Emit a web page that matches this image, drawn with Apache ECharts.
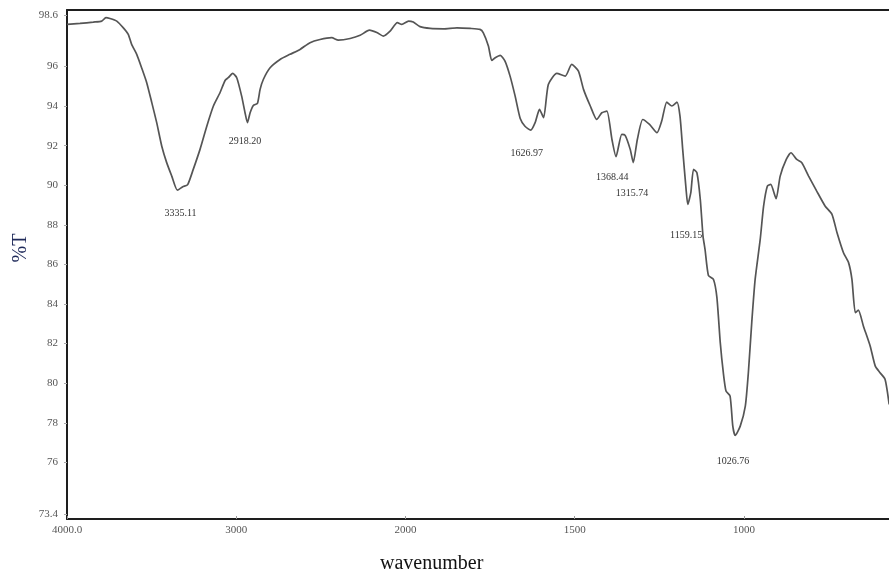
<!DOCTYPE html>
<html>
<head>
<meta charset="utf-8">
<script src="https://cdn.jsdelivr.net/npm/echarts@6/dist/echarts.min.js"></script>
<style>html,body{margin:0;padding:0;background:#fff;overflow:hidden;}#chart{width:889px;height:581px;}</style>
</head>
<body>
<div id="chart"></div>
<script>
// Wavenumber (cm-1) and %T
const wavenumbers = [4000,3923,3845,3795,3770,3746,3706,3667,3638,3618,
3588,3559,3529,3499,3470,3440,3411,3381,3348,3316,
3287,3254,3214,3174,3135,3096,3066,3047,3021,2997,
2968,2948,2934,2918,2899,2875,2859,2840,2800,2741,
2682,2623,2564,2505,2436,2397,2327,2268,2213,2166,
2131,2091,2048,2022,1991,1977,1957,1927,1888,1848,
1809,1780,1770,1755,1745,1735,1720,1706,1691,1676,
1661,1647,1630,1617,1604,1592,1578,1553,1528,1509,
1489,1474,1454,1435,1420,1405,1390,1378,1361,1351,
1336,1327,1315,1299,1279,1257,1243,1228,1213,1198,
1189,1181,1171,1166,1157,1149,1139,1129,1121,1115,
1105,1090,1080,1070,1061,1053,1041,1033,1026,1011,
996,987,977,967,952,942,931,921,905,893,
875,861,844,829,809,785,760,740,725,706,
691,681,671,662,647,627,612,598,583,571];
const transmittance = [98.12,98.17,98.24,98.29,98.46,98.42,98.29,97.95,97.62,97.11,
96.61,95.93,95.18,94.17,93.16,91.97,91.14,90.46,89.75,89.92,
90.03,90.80,91.81,92.98,94.00,94.67,95.29,95.43,95.65,95.43,
94.50,93.66,93.16,93.66,94.03,94.13,94.84,95.34,95.93,96.35,
96.61,96.86,97.20,97.36,97.45,97.33,97.41,97.57,97.83,97.70,
97.53,97.78,98.21,98.12,98.29,98.24,98.01,97.92,97.90,97.95,
97.92,97.87,97.70,97.03,96.30,96.44,96.56,96.27,95.51,94.50,
93.37,92.98,92.78,93.16,93.83,93.41,95.09,95.65,95.51,96.10,
95.76,94.84,94.00,93.32,93.66,93.74,92.31,91.44,92.57,92.52,
91.81,91.14,92.31,93.32,93.07,92.65,93.24,94.20,94.00,94.20,
93.49,91.81,89.79,89.03,89.62,90.80,90.63,89.28,87.43,86.76,
85.44,85.24,84.33,82.05,80.53,79.60,79.35,77.83,77.36,77.83,
78.84,80.53,83.06,85.24,87.26,88.94,89.95,90.04,89.32,90.46,
91.30,91.64,91.30,91.14,90.46,89.70,88.94,88.53,87.60,86.59,
86.09,85.24,83.56,83.69,82.88,81.87,80.86,80.53,80.19,78.93];

// Annotated peaks
const peakLabels = ['3335.11','2918.20','1626.97','1368.44','1315.74','1159.15','1026.76'];
const peakWavenumbers = [3335.11,2918.20,1626.97,1368.44,1315.74,1159.15,1026.76];
const peakTransmittance = [89.75,93.16,92.78,91.44,91.14,89.03,77.36];

// Axis tick labels
const xTickLabels = ['4000.0','3000','2000','1500','1000'];
const xTickWavenumbers = [4000,3000,2000,1500,1000];
const yTickValues = [73.4,76,78,80,82,84,86,88,90,92,94,96,98.6];

// FTIR axis: scale doubles below 2000 cm-1
function toU(wn){ return wn >= 2000 ? 4000 - wn : 2000 + 2 * (2000 - wn); }

const seriesData = wavenumbers.map((w, i) => [toU(w), transmittance[i]]);
const labelOffsets = [[1,23],[-5,19],[-5,23],[-7,21],[-5,31],[-4,31],[-2,26]];
const markData = peakWavenumbers.map((w, i) => ({
  coord: [toU(w), peakTransmittance[i]],
  value: peakLabels[i],
  label: { offset: labelOffsets[i] }
}));

const serif = '"Liberation Serif","DejaVu Serif",serif';
const chart = echarts.init(document.getElementById('chart'), null, {renderer: 'canvas'});
chart.setOption({
  animation: false,
  backgroundColor: '#ffffff',
  grid: { left: 67, top: 10, right: 0, bottom: 62 },
  xAxis: [{
    type: 'value', min: 0, max: 4857, interval: 1000,
    axisLine: { show: true, onZero: false, lineStyle: { color: '#1e1e1e', width: 2 } },
    axisTick: { show: true, inside: true, length: 3, lineStyle: { color: '#999' } },
    splitLine: { show: false },
    axisLabel: {
      show: true, showMinLabel: true, showMaxLabel: false, margin: 6,
      fontFamily: serif, fontSize: 11, color: '#555',
      formatter: function (v) {
        const idx = xTickWavenumbers.findIndex(w => Math.abs(toU(w) - v) < 1);
        return idx >= 0 ? xTickLabels[idx] : '';
      }
    }
  }, {
    type: 'value', position: 'top', min: 0, max: 4857,
    axisLine: { show: true, onZero: false, lineStyle: { color: '#1e1e1e', width: 2 } },
    axisTick: { show: false }, axisLabel: { show: false }, splitLine: { show: false }
  }],
  yAxis: {
    type: 'value', min: 73.14, max: 98.85,
    axisLine: { show: true, onZero: false, lineStyle: { color: '#1e1e1e', width: 2 } },
    axisTick: { show: true, length: 3, customValues: yTickValues, lineStyle: { color: '#aaa' } },
    splitLine: { show: false },
    axisLabel: {
      customValues: yTickValues, margin: 9,
      fontFamily: serif, fontSize: 11, color: '#555',
      formatter: v => String(v)
    }
  },
  graphic: [
    { type: 'text', left: 380, top: 554, style: { text: 'wavenumber', font: '20px ' + serif, fill: '#111' } },
    { type: 'text', x: 21, y: 248, rotation: Math.PI / 2,
      style: { text: '%T', font: '20px ' + serif, fill: '#1f2a5a', textAlign: 'center', textVerticalAlign: 'middle' } }
  ],
  series: [{
    type: 'line',
    xAxisIndex: 0,
    data: seriesData,
    showSymbol: false,
    smooth: 0.2,
    lineStyle: { color: '#555', width: 1.7 },
    markPoint: {
      symbol: 'circle', symbolSize: 0,
      label: { show: true, position: 'inside', fontFamily: serif, fontSize: 10, color: '#333', formatter: p => p.value },
      data: markData
    }
  }]
});
</script>
</body>
</html>
